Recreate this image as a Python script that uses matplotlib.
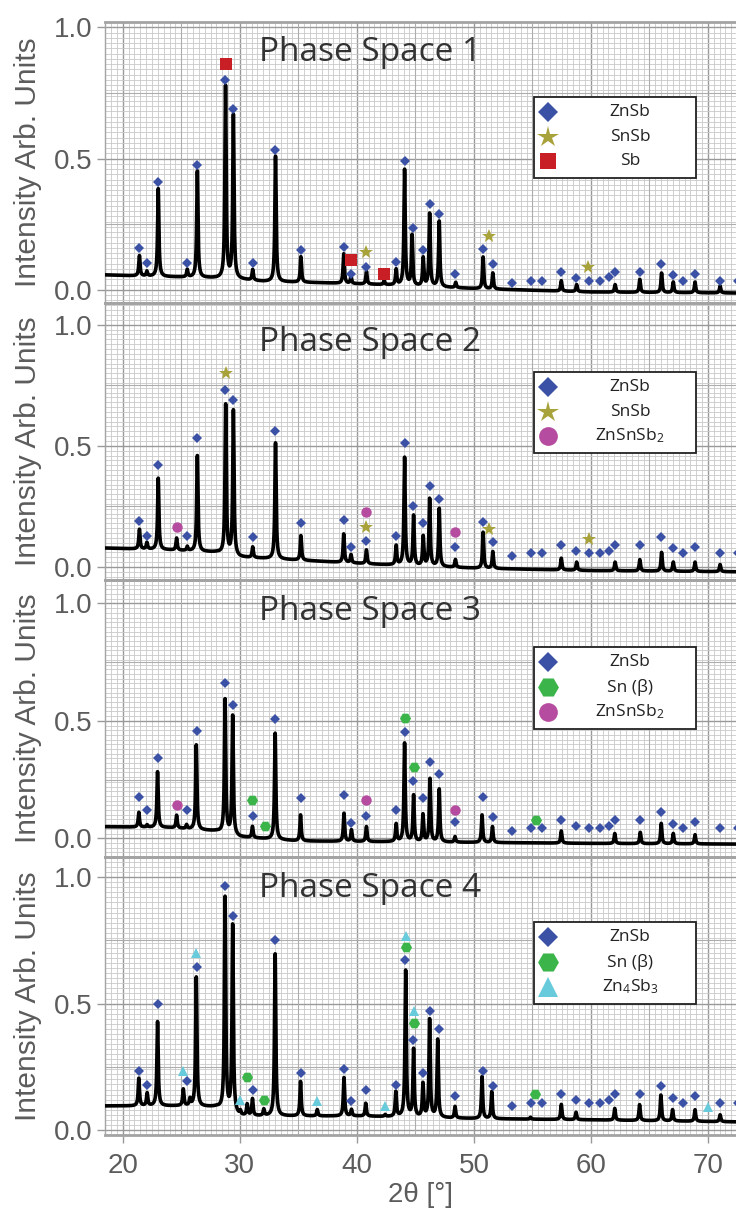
import numpy
import matplotlib.pyplot as pyplot
from matplotlib.patches import Rectangle
from matplotlib.ticker import MultipleLocator, FixedLocator

pyplot.rcParams['font.family'] = ['Liberation Sans', 'DejaVu Sans']
pyplot.rcParams['mathtext.fontset'] = 'custom'
pyplot.rcParams['mathtext.rm'] = 'Open Sans'
pyplot.rcParams['mathtext.it'] = 'Open Sans:italic'
pyplot.rcParams['mathtext.bf'] = 'Open Sans:bold'

# ZnSb reflections (2theta) marked in every pattern
znsb_pos = [21.4, 22.07, 23.0, 25.5, 26.33, 28.77, 29.42, 31.09, 33.04, 35.2,
            38.89, 39.52, 40.8, 43.35, 44.1, 44.8, 45.66, 46.23, 47.0, 48.42,
            50.75, 51.6, 53.22, 54.85, 55.85, 57.47, 58.76, 59.8, 60.82, 61.55,
            62.06, 64.18, 66.02, 67.03, 67.9, 68.9, 71.04, 72.54]

# marker heights per phase space
znsb_y1 = [0.159, 0.104, 0.411, 0.104, 0.476, 0.80, 0.687, 0.104, 0.534, 0.151,
           0.164, 0.061, 0.086, 0.105, 0.492, 0.237, 0.151, 0.326, 0.288, 0.061,
           0.157, 0.098, 0.026, 0.035, 0.035, 0.069, 0.047, 0.035, 0.035, 0.05,
           0.069, 0.069, 0.098, 0.056, 0.035, 0.061, 0.035, 0.035]
znsb_y2 = [0.188, 0.129, 0.42, 0.129, 0.533, 0.731, 0.69, 0.122, 0.561, 0.18,
           0.195, 0.082, 0.108, 0.129, 0.513, 0.252, 0.183, 0.334, 0.279, 0.083,
           0.187, 0.102, 0.045, 0.056, 0.056, 0.09, 0.067, 0.056, 0.056, 0.067,
           0.09, 0.09, 0.122, 0.077, 0.056, 0.083, 0.056, 0.056]
znsb_y3 = [0.176, 0.119, 0.34, 0.119, 0.458, 0.663, 0.568, 0.095, 0.509, 0.17,
           0.184, 0.066, 0.096, 0.119, 0.454, 0.245, 0.17, 0.326, 0.272, 0.068,
           0.176, 0.089, 0.032, 0.042, 0.042, 0.078, 0.052, 0.042, 0.042, 0.052,
           0.078, 0.078, 0.11, 0.062, 0.042, 0.07, 0.042, 0.042]
znsb_y4 = [0.234, 0.178, 0.498, 0.192, 0.646, 0.964, 0.845, 0.159, 0.751, 0.226,
           0.241, 0.113, 0.159, 0.178, 0.672, 0.357, 0.226, 0.47, 0.398, 0.134,
           0.234, 0.172, 0.096, 0.106, 0.106, 0.141, 0.118, 0.106, 0.106, 0.118,
           0.141, 0.141, 0.172, 0.127, 0.106, 0.133, 0.106, 0.106]

snsb_x1 = [40.78, 51.3, 59.75]
snsb_y1 = [0.144, 0.207, 0.086]
sb_x1 = [28.78, 39.54, 42.33]
sb_y1 = [0.859, 0.112, 0.061]

snsb_x2 = [28.79, 40.82, 51.33, 59.84]
snsb_y2 = [0.80, 0.166, 0.155, 0.114]
znsnsb2_x2 = [24.6, 40.82, 48.42]
znsnsb2_y2 = [0.165, 0.226, 0.145]

sn_x3 = [31.08, 32.11, 44.08, 44.85, 55.33]
sn_y3 = [0.161, 0.051, 0.511, 0.305, 0.078]
znsnsb2_x3 = [24.6, 40.82, 48.39]
znsnsb2_y3 = [0.14, 0.164, 0.119]

sn_x4 = [30.63, 32.05, 44.17, 44.85, 55.24]
sn_y4 = [0.209, 0.117, 0.725, 0.424, 0.141]
zn4sb3_x4 = [25.17, 26.26, 30.05, 36.62, 42.42, 44.17, 44.85, 69.98]
zn4sb3_y4 = [0.233, 0.701, 0.118, 0.116, 0.095, 0.767, 0.472, 0.089]

# measured patterns: peak positions / peak tops and background points
peaks_x1 = [21.42, 22.06, 23.03, 25.51, 26.37, 28.78, 29.45, 31.1, 33.05, 35.22,
            38.88, 39.5, 40.82, 42.33, 43.36, 44.08, 44.72, 45.67, 46.22, 47.04,
            48.45, 50.79, 51.62, 57.47, 58.78, 62.07, 64.18, 66.04, 67.04, 68.9, 71.04]
peaks_y1 = [0.13, 0.07, 0.385, 0.076, 0.453, 0.773, 0.663, 0.076, 0.51, 0.126,
            0.137, 0.05, 0.07, 0.035, 0.076, 0.457, 0.206, 0.12, 0.289, 0.26,
            0.028, 0.125, 0.064, 0.035, 0.02, 0.02, 0.04, 0.064, 0.03, 0.03, 0.015]
back_x1 = [18.5, 22, 27, 30, 32, 37, 42, 50, 60, 72.4]
back_y1 = [0.057, 0.052, 0.046, 0.04, 0.032, 0.027, 0.02, 0.005, -0.008, -0.012]

peaks_x2 = [21.42, 22.06, 23.03, 24.6, 25.51, 26.37, 28.79, 29.45, 31.1, 33.05,
            35.22, 38.88, 39.5, 40.82, 43.36, 44.08, 44.85, 45.67, 46.22, 47.04,
            48.42, 50.79, 51.62, 57.47, 58.78, 62.07, 64.18, 66.04, 67.04, 68.9, 71.04]
peaks_y2 = [0.155, 0.10, 0.366, 0.118, 0.083, 0.46, 0.669, 0.644, 0.081, 0.513,
            0.129, 0.136, 0.05, 0.07, 0.086, 0.451, 0.21, 0.124, 0.28, 0.24,
            0.03, 0.143, 0.063, 0.036, 0.02, 0.02, 0.03, 0.06, 0.02, 0.02, 0.01]
back_x2 = [18.5, 24, 28, 30, 35, 42, 50, 60, 72.4]
back_y2 = [0.078, 0.07, 0.06, 0.04, 0.028, 0.01, -0.005, -0.015, -0.02]

peaks_x3 = [21.37, 22.08, 22.97, 24.6, 25.45, 26.28, 28.74, 29.39, 31.08, 33.02,
            35.19, 38.9, 39.54, 40.82, 43.36, 44.08, 44.85, 45.65, 46.25, 47.04,
            48.39, 50.7, 51.59, 57.47, 62.04, 64.22, 66.01, 67.04, 68.9]
peaks_y3 = [0.11, 0.056, 0.283, 0.097, 0.056, 0.397, 0.589, 0.52, 0.049, 0.447,
            0.099, 0.106, 0.035, 0.049, 0.059, 0.404, 0.181, 0.099, 0.252, 0.208,
            0.006, 0.099, 0.049, 0.031, 0.02, 0.025, 0.063, 0.02, 0.015]
back_x3 = [18.5, 24, 28, 30, 35, 40, 50, 60, 72.4]
back_y3 = [0.049, 0.045, 0.03, 0.005, -0.012, -0.014, -0.018, -0.022, -0.025]

peaks_x4 = [21.37, 22.08, 22.97, 25.17, 25.74, 26.28, 28.74, 29.39, 30.05, 30.63,
            31.08, 32.05, 33.02, 35.19, 36.62, 38.9, 39.54, 40.76, 42.42, 43.33,
            44.17, 44.85, 45.65, 46.22, 46.91, 48.39, 50.7, 51.53, 54.84, 57.47,
            58.73, 62.04, 64.16, 65.98, 66.98, 68.9, 71.04]
peaks_y4 = [0.204, 0.145, 0.428, 0.16, 0.12, 0.604, 0.917, 0.808, 0.07, 0.099,
            0.121, 0.08, 0.696, 0.191, 0.08, 0.207, 0.08, 0.105, 0.06, 0.149,
            0.629, 0.316, 0.18, 0.435, 0.356, 0.092, 0.21, 0.151, 0.05, 0.101,
            0.07, 0.085, 0.1, 0.138, 0.08, 0.08, 0.06]
back_x4 = [18.5, 25, 28, 30, 40, 50, 60, 72.4]
back_y4 = [0.095, 0.095, 0.09, 0.055, 0.055, 0.045, 0.04, 0.032]

ZNSB = dict(marker='D', color='#3a51a6', ms=5.6, leg_ms=10.5)
SNSB = dict(marker='*', color='#a8a23a', ms=10.5, leg_ms=16)
SB = dict(marker='s', color='#c81f26', ms=8.5, leg_ms=12)
ZNSNSB2 = dict(marker='o', color='#b64c9f', ms=7.5, leg_ms=13.5)
SN = dict(marker='H', color='#3bb54a', ms=8.0, leg_ms=15)
ZN4SB3 = dict(marker='^', color='#67cbdb', ms=6.8, leg_ms=14)

x_min, x_max = 18.48, 72.4
two_theta = numpy.linspace(x_min, x_max, 8000)


def pattern(peak_x, peak_y, back_x, back_y, gamma=0.065):
    back = numpy.interp(two_theta, back_x, back_y)
    counts = back.copy()
    for p, top in zip(peak_x, peak_y):
        amp = max(top - numpy.interp(p, back_x, back_y), 0.0)
        counts += amp * gamma**2 / ((two_theta - p)**2 + gamma**2)
    return counts


def draw_legend(axis, entries, y_top, y_bottom):
    x0, x1 = 0.680, 0.937
    axis.add_patch(Rectangle((x0, y_bottom), x1 - x0, y_top - y_bottom,
                             transform=axis.transAxes, facecolor='white',
                             edgecolor='#222222', lw=1.3, zorder=6))
    h = y_top - y_bottom
    for (label, style), frac in zip(entries, [0.185, 0.49, 0.79]):
        y = y_top - frac * h
        axis.plot([x0 + 14 / 631], [y], transform=axis.transAxes, ls='none',
                  marker=style['marker'], ms=style['leg_ms'], mew=0,
                  color=style['color'], zorder=7, clip_on=False)
        axis.text(x0 + 96 / 631, y, label, transform=axis.transAxes,
                  ha='center', va='center', fontsize=12.5, family='Open Sans',
                  color='#222222', zorder=7)


fig = pyplot.figure(figsize=(7.36, 12.16), dpi=100)

panel_rows = [(22, 303), (303, 580), (580, 857), (857, 1135)]
panel_ylims = [(-0.05, 1.02), (-0.054, 1.09), (-0.08, 1.10), (-0.02, 1.08)]
title_y = [0.893, 0.856, 0.885, 0.888]
legend_boxes = [(0.733, 0.445), (0.751, 0.458), (0.758, 0.462), (0.766, 0.471)]

curves = [
    pattern(peaks_x1, peaks_y1, back_x1, back_y1),
    pattern(peaks_x2, peaks_y2, back_x2, back_y2),
    pattern(peaks_x3, peaks_y3, back_x3, back_y3),
    pattern(peaks_x4, peaks_y4, back_x4, back_y4),
]
znsb_heights = [znsb_y1, znsb_y2, znsb_y3, znsb_y4]
extra_markers = [
    [(SNSB, snsb_x1, snsb_y1), (SB, sb_x1, sb_y1)],
    [(SNSB, snsb_x2, snsb_y2), (ZNSNSB2, znsnsb2_x2, znsnsb2_y2)],
    [(SN, sn_x3, sn_y3), (ZNSNSB2, znsnsb2_x3, znsnsb2_y3)],
    [(SN, sn_x4, sn_y4), (ZN4SB3, zn4sb3_x4, zn4sb3_y4)],
]
legend_entries = [
    [('ZnSb', ZNSB), ('SnSb', SNSB), ('Sb', SB)],
    [('ZnSb', ZNSB), ('SnSb', SNSB), ('ZnSnSb$_\\mathrm{2}$', ZNSNSB2)],
    [('ZnSb', ZNSB), ('Sn (β)', SN), ('ZnSnSb$_\\mathrm{2}$', ZNSNSB2)],
    [('ZnSb', ZNSB), ('Sn (β)', SN), ('Zn$_\\mathrm{4}$Sb$_\\mathrm{3}$', ZN4SB3)],
]

for i, (top, bottom) in enumerate(panel_rows):
    axis = fig.add_axes([105 / 736, 1 - bottom / 1216, 631 / 736, (bottom - top) / 1216])
    axis.set_facecolor('none')
    axis.set_xlim(x_min, x_max)
    axis.set_ylim(*panel_ylims[i])

    axis.xaxis.set_major_locator(MultipleLocator(10))
    axis.xaxis.set_minor_locator(MultipleLocator(0.5))
    axis.yaxis.set_major_locator(FixedLocator([0.0, 0.5, 1.0]))
    axis.yaxis.set_minor_locator(MultipleLocator(0.02))
    axis.set_yticklabels(['0.0', '0.5', '1.0'])
    axis.grid(which='minor', color='#c9c9c9', lw=0.6)
    axis.grid(which='major', color='#999999', lw=1.0)
    for v in [25, 35, 45, 55, 65]:
        axis.axvline(v, color='#adadad', lw=0.8, zorder=0.6)
    for v in [0.25, 0.75]:
        axis.axhline(v, color='#adadad', lw=0.8, zorder=0.6)
    axis.set_axisbelow(True)

    axis.tick_params(which='major', direction='out', length=6, width=1,
                     color='#9a9a9a', labelsize=20, labelcolor='#5c5c5c', pad=3)
    axis.tick_params(which='minor', length=0)
    axis.tick_params(axis='x', pad=7)
    if i < 3:
        axis.tick_params(labelbottom=False)
    else:
        axis.set_xlabel('2θ [°]', fontsize=20, color='#5c5c5c', labelpad=2)

    for side in ['top', 'bottom']:
        axis.spines[side].set_color('#a3a3a3')
        axis.spines[side].set_linewidth(2)
    axis.spines['left'].set_color('#a3a3a3')
    axis.spines['left'].set_linewidth(1)
    axis.spines['right'].set_visible(False)

    axis.plot(two_theta, curves[i], color='black', lw=2.6, zorder=3,
              solid_joinstyle='round')

    axis.plot(znsb_pos, znsb_heights[i], ls='none', marker=ZNSB['marker'],
              ms=ZNSB['ms'], mew=0, color=ZNSB['color'], zorder=4)
    for style, xs, ys in extra_markers[i]:
        axis.plot(xs, ys, ls='none', marker=style['marker'], ms=style['ms'],
                  mew=0, color=style['color'], zorder=4)

    axis.text(0.42, title_y[i], f'Phase Space {i + 1}', transform=axis.transAxes,
              ha='center', va='center', fontsize=24, family='Open Sans',
              color='#333333', zorder=5)

    axis.set_ylabel('Intensity Arb. Units', fontsize=21.5, color='#5c5c5c')
    axis.yaxis.set_label_coords(-0.1, 0.5)

    draw_legend(axis, legend_entries[i], *legend_boxes[i])

fig.savefig('out.png', dpi=100, facecolor='white')
